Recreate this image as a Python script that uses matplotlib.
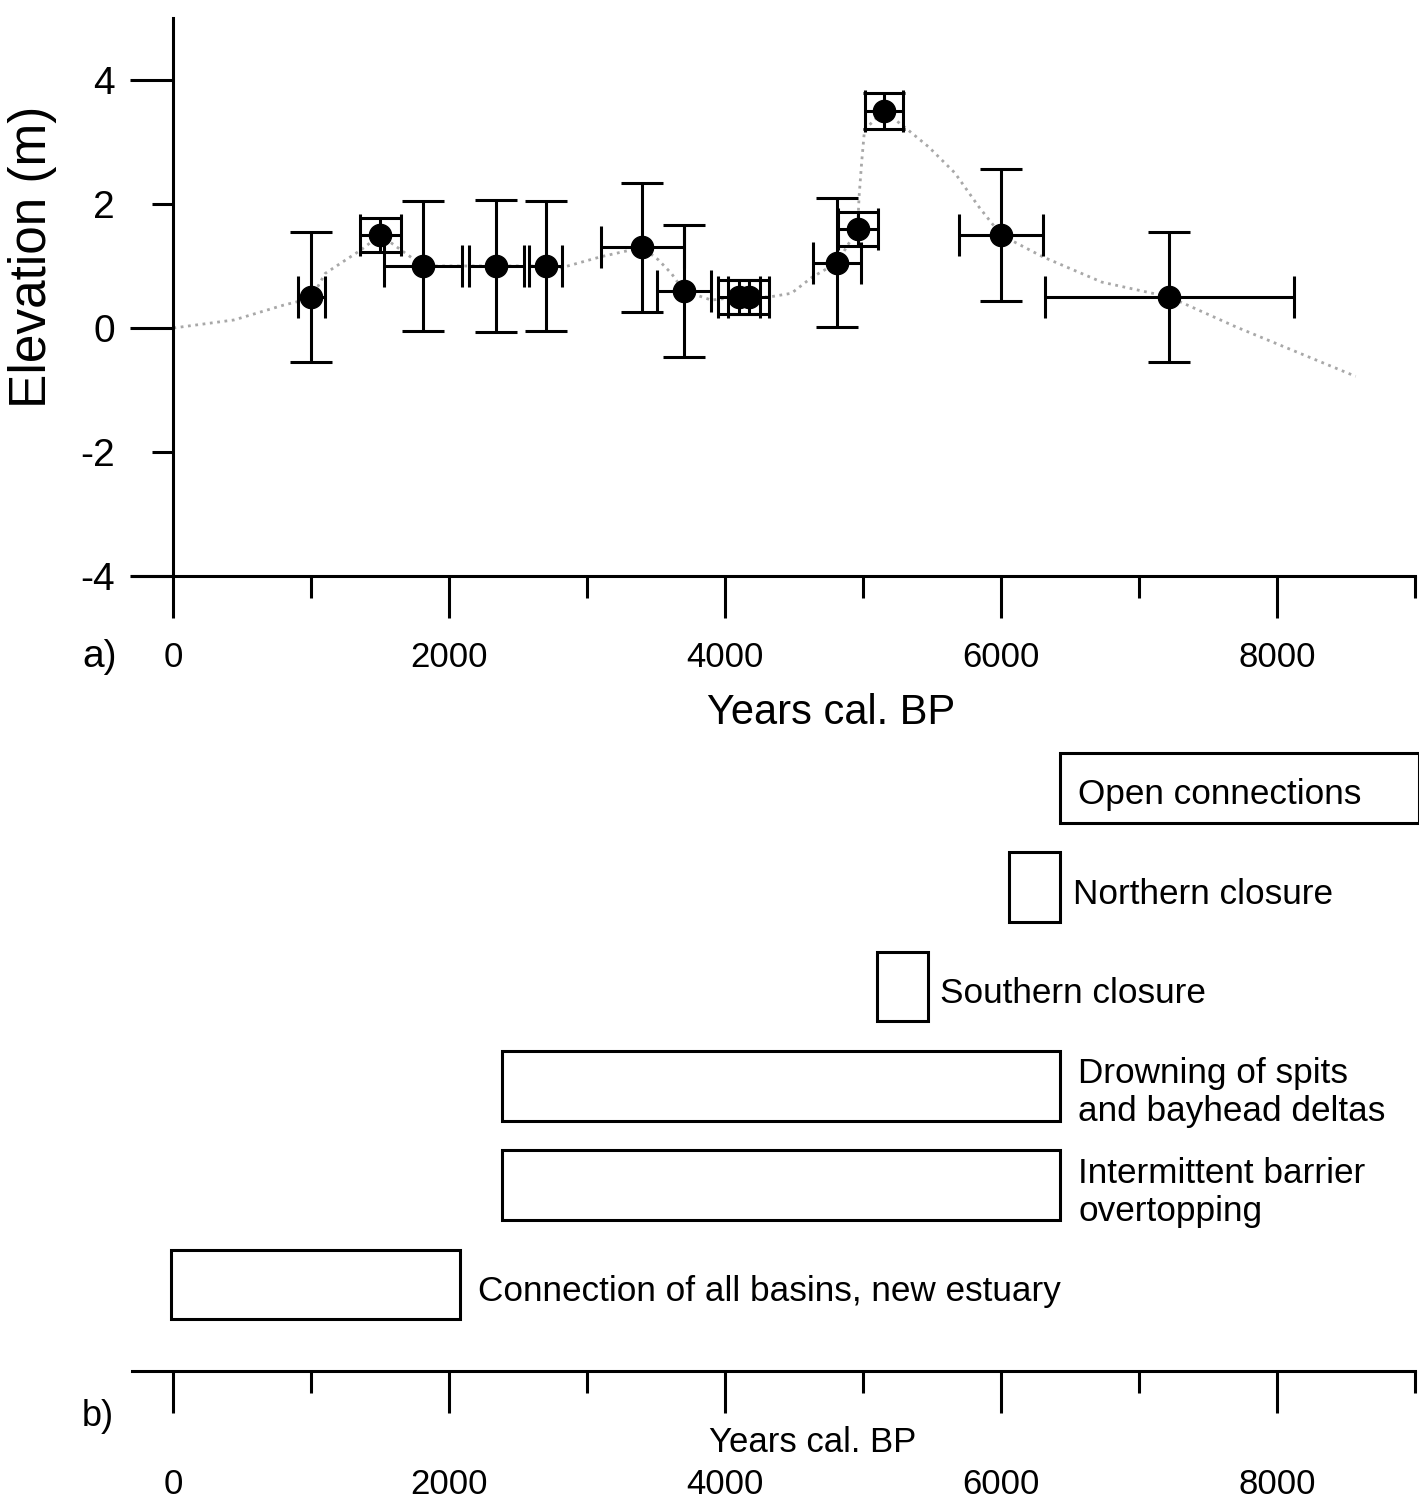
import matplotlib
matplotlib.use("Agg")
import matplotlib.pyplot as plt
from matplotlib.ticker import FixedLocator, FixedFormatter

plt.rcParams['font.family'] = ['Liberation Sans', 'DejaVu Sans']
plt.rcParams['axes.unicode_minus'] = False

# a) dated sea-level indicators
ages = [1000, 1500, 1810, 2340, 2700, 3400, 3700, 4100, 4170, 4810, 4960, 5150, 6000, 7220]
elev = [0.5, 1.5, 1.0, 1.0, 1.0, 1.3, 0.6, 0.5, 0.5, 1.05, 1.6, 3.5, 1.5, 0.5]
age_err = [100, 150, 280, 200, 120, 300, 195, 150, 150, 175, 145, 140, 305, 900]
elev_err = [1.05, 0.27, 1.05, 1.06, 1.05, 1.04, 1.06, 0.28, 0.28, 1.04, 0.27, 0.29, 1.06, 1.05]

# dotted sea-level curve
curve_age = [0, 440, 800, 1000, 1100, 1360, 1500, 1810, 2340, 2700, 2810, 3100, 3400,
             3515, 3610, 3700, 3900, 4100, 4170, 4320, 4480, 4630, 4810, 4960, 4970,
             4990, 5010, 5150, 5300, 5475, 5665, 5840, 6000, 6300, 6730, 7220, 7700, 8570]
curve_elev = [0, 0.13, 0.37, 0.48, 0.88, 1.26, 1.5, 1.0, 1.0, 1.0, 0.97, 1.15, 1.3,
              1.1, 0.88, 0.6, 0.45, 0.5, 0.5, 0.5, 0.56, 0.82, 1.05, 1.6, 2.11,
              2.7, 3.2, 3.5, 3.24, 2.92, 2.5, 1.95, 1.5, 1.15, 0.74, 0.5, 0.02, -0.78]

# b) phases
phase_labels = ["Open connections", "Northern closure", "Southern closure",
                "Drowning of spits\nand bayhead deltas", "Intermittent barrier\novertopping",
                "Connection of all basins, new estuary"]
phase_start = [6430, 6060, 5100, 2380, 2380, -20]
phase_end = [9030, 6430, 5470, 6430, 6430, 2080]
phase_row = [6, 5, 4, 3, 2, 1]

x_major = [0, 2000, 4000, 6000, 8000]
x_minor = [1000, 3000, 5000, 7000, 9000]

W, H = 1419, 1507
fig = plt.figure(figsize=(W / 100, H / 100), dpi=100)

lw = 2.2

# ---- top panel
ax1 = fig.add_axes([132 / W, 1 - 576 / H, 1283 / W, 558 / H])
ax1.plot(curve_age, curve_elev, linestyle=':', color='#a8a8a8', lw=2, zorder=1)
ax1.errorbar(ages, elev, xerr=age_err, yerr=elev_err, fmt='o', color='black',
             ms=16, elinewidth=lw, capsize=15, capthick=lw, zorder=2)
ax1.set_xlim(-300, 9000)
ax1.set_ylim(-4, 5)
for s in ['top', 'right']:
    ax1.spines[s].set_visible(False)
ax1.spines['left'].set_position(('data', 0))
ax1.spines['left'].set_linewidth(lw)
ax1.spines['bottom'].set_linewidth(lw)

ax1.xaxis.set_major_locator(FixedLocator(x_major))
ax1.xaxis.set_minor_locator(FixedLocator(x_minor))
ax1.set_xticklabels([str(v) for v in x_major])
ax1.yaxis.set_major_locator(FixedLocator([-4, 0, 4]))
ax1.yaxis.set_minor_locator(FixedLocator([-2, 2]))
ax1.yaxis.set_major_formatter(FixedFormatter(['-4', '0', '4']))
ax1.yaxis.set_minor_formatter(FixedFormatter(['-2', '2']))
ax1.tick_params(axis='x', which='major', direction='out', length=30, width=lw, labelsize=25, pad=17)
ax1.tick_params(axis='x', which='minor', direction='out', length=16, width=lw)
ax1.tick_params(axis='y', which='major', direction='out', length=31, width=lw, labelsize=28, pad=11)
ax1.tick_params(axis='y', which='minor', direction='out', length=15, width=lw, labelsize=28, pad=27)

fig.text(831 / W, 1 - 713 / H, 'Years cal. BP', ha='center', va='center', fontsize=30)
fig.text(33 / W, 1 - 257 / H, 'Elevation (m)', ha='center', va='center', rotation=90, fontsize=37)
fig.text(82 / W, 1 - 657 / H, 'a)', ha='left', va='center', fontsize=28)

# ---- bottom panel
ax2 = fig.add_axes([132 / W, 1 - 1371 / H, 1283 / W, 623 / H])
widths = [e - s for s, e in zip(phase_start, phase_end)]
ax2.barh(phase_row, widths, left=phase_start, height=0.7, fill=False,
         edgecolor='black', lw=lw, clip_on=False)
label_gap = [130, 88, 90, 130, 130, 130]
for i, lab in enumerate(phase_labels):
    tx = (phase_start[i] if i == 0 else phase_end[i]) + label_gap[i]
    ax2.text(tx, phase_row[i] - 0.07, lab, ha='left', va='center', fontsize=25.3, linespacing=1.2)
ax2.set_xlim(-300, 9000)
ax2.set_ylim(0.13, 6.4)
for s in ['top', 'right', 'left']:
    ax2.spines[s].set_visible(False)
ax2.spines['bottom'].set_linewidth(lw)
ax2.set_yticks([])
ax2.xaxis.set_major_locator(FixedLocator(x_major))
ax2.xaxis.set_minor_locator(FixedLocator(x_minor))
ax2.set_xticklabels([str(v) for v in x_major])
ax2.tick_params(axis='x', which='major', direction='out', length=30, width=lw, labelsize=25, pad=40)
ax2.tick_params(axis='x', which='minor', direction='out', length=16, width=lw)

fig.text(813 / W, 1 - 1443 / H, 'Years cal. BP', ha='center', va='center', fontsize=25)
fig.text(82 / W, 1 - 1416 / H, 'b)', ha='left', va='center', fontsize=26)

fig.savefig('out.png', dpi=100, facecolor='white')
